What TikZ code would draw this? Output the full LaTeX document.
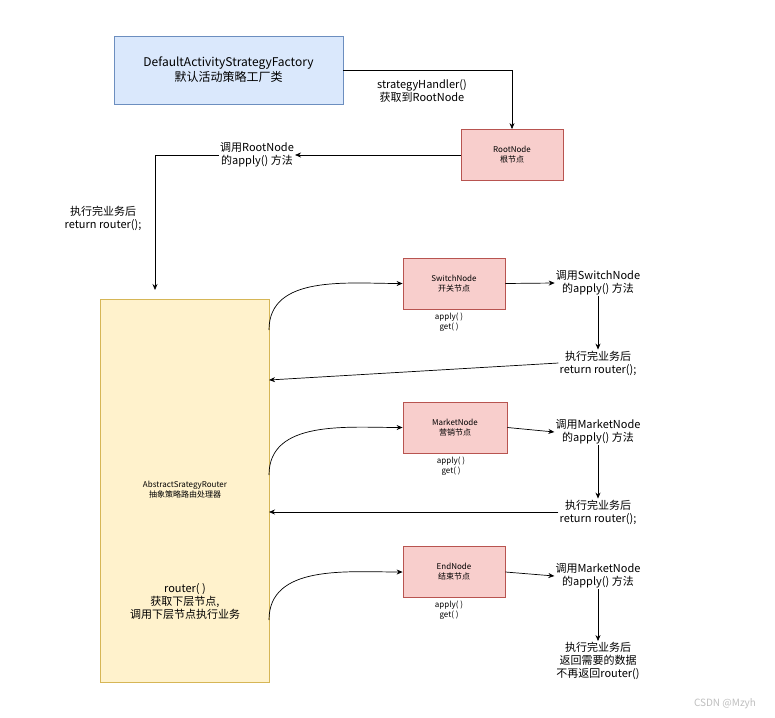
\documentclass[tikz,border=0pt]{standalone}
\usepackage{fontspec}
\setmainfont{Noto Sans CJK SC}
\usetikzlibrary{arrows.meta}
\begin{document}
\begin{tikzpicture}[x=1pt,y=-1pt,
  box/.style={draw=#1,line width=0.8pt,anchor=north west,inner sep=0pt},
  red/.style={box=red!50!black!60,fill=red!15!pink!60},
  lab/.style={align=center,font=\fontsize{11}{13}\selectfont,inner sep=1pt},
  small/.style={align=center,font=\fontsize{8}{10}\selectfont},
  arr/.style={-{Stealth[length=6pt,width=5pt]},line width=0.7pt}]
\definecolor{bluef}{HTML}{DAE8FC}\definecolor{blued}{HTML}{6C8EBF}
\definecolor{redf}{HTML}{F8CECC}\definecolor{redd}{HTML}{B85450}
\definecolor{yelf}{HTML}{FFF2CC}\definecolor{yeld}{HTML}{D6B656}
\tikzset{rn/.style={draw=redd,fill=redf,line width=0.8pt,minimum height=51pt,align=center,font=\fontsize{8}{10}\selectfont}}
\useasboundingbox[fill=white] (0,0) rectangle (775,717);
\node[draw=blued,fill=bluef,line width=0.8pt,minimum width=229pt,minimum height=68pt,align=center,font=\fontsize{12}{15}\selectfont] (f) at (228.5,70) {DefaultActivityStrategyFactory\\默认活动策略工厂类};
\node[rn,minimum width=102pt] (root) at (512,155) {RootNode\\根节点};
\node[lab] (l1) at (422,91) {strategyHandler()\\获取到RootNode};
\draw[arr] (f.east) -- (512,70) -- (root.north);
\node[lab] (l2) at (257,155) {调用RootNode\\的apply() 方法};
\draw[arr] (root.west) -- (l2.east);
\coordinate (c1) at (155,155);
\draw[line width=0.7pt] (l2.west) -- (c1);
\node[lab] (l3) at (103,218) {执行完业务后\\return router();};
\node[draw=yeld,fill=yelf,line width=0.8pt,minimum width=169pt,minimum height=383pt] (y) at (184.5,490.5) {};
\draw[arr] (c1) -- (155,290);
\node[small] (ya) at (185,490) {AbstractSrategyRouter\\抽象策略路由处理器};
\node[lab] (yb) at (185,601) {router( )\\获取下层节点,\\调用下层节点执行业务};
% rows
\node[rn,minimum width=102pt] (s) at (454,283.5) {SwitchNode\\开关节点};
\node[small] (sa) at (449,322) {apply( )\\get( )};
\node[lab] (sl) at (598,283) {调用SwitchNode\\的apply() 方法};
\node[lab] (sr) at (598,363) {执行完业务后\\return router();};
\draw[arr] (269,330) to[out=90,in=180] (s.west);
\draw[arr] (s.east) -- (sl.west);
\draw[arr] (sl.south) -- (sr.north);
\draw[arr] (sr.west) -- (269,380);
\node[rn,minimum width=104pt] (m) at (455,427.5) {MarketNode\\营销节点};
\node[small] (ma) at (451,466) {apply( )\\get( )};
\node[lab] (ml) at (598,432) {调用MarketNode\\的apply() 方法};
\node[lab] (mr) at (598,512) {执行完业务后\\return router();};
\draw[arr] (269,475) to[out=90,in=180] (m.west);
\draw[arr] (m.east) -- (ml.west);
\draw[arr] (ml.south) -- (mr.north);
\draw[arr] (mr.west) -- (269,512);
\node[rn,minimum width=102pt] (e) at (454,572) {EndNode\\结束节点};
\node[small] (ea) at (449,610) {apply( )\\get( )};
\node[lab] (el) at (598,576) {调用MarketNode\\的apply() 方法};
\node[lab] (er) at (598,661) {执行完业务后\\返回需要的数据\\不再返回router()};
\draw[arr] (269,620) to[out=90,in=180] (e.west);
\draw[arr] (e.east) -- (el.west);
\draw[arr] (el.south) -- (er.north);
\node[text=gray!50,font=\fontsize{10}{12}\selectfont] (wm) at (725,704) {CSDN @Mzyh};
\end{tikzpicture}
\end{document}
